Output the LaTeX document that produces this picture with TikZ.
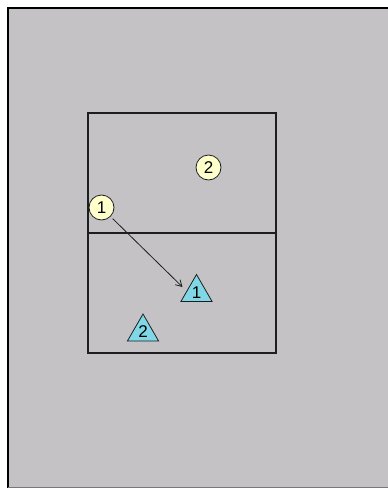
\documentclass[tikz,border=0pt]{standalone}
\usepackage{fontspec}
\setmainfont{Liberation Sans}
\usetikzlibrary{positioning, arrows.meta, shapes.geometric}
\definecolor{FloorGray}{RGB}{196,194,197}
\definecolor{CourtLine}{RGB}{30,30,30}
\definecolor{EdgeGray}{RGB}{120,120,120}
\definecolor{PlayerYellow}{RGB}{255,255,204}
\definecolor{DefCyan}{RGB}{128,216,230}
\tikzset{
  player/.style={circle, draw=CourtLine, thick, fill=PlayerYellow, minimum size=25pt, inner sep=0pt,
    font=\fontsize{17}{17}\selectfont},
  defender/.style={regular polygon, regular polygon sides=3, draw=CourtLine, thick, fill=DefCyan,
    minimum size=36pt, inner sep=0pt, font=\fontsize{17}{17}\selectfont},
  courtline/.style={draw=CourtLine, line width=2pt},
  move/.style={-{Straight Barb[length=6pt, width=7pt]}, line width=0.8pt, CourtLine},
}

\begin{document}
\begin{tikzpicture}[x=1pt, y=-1pt]
        \useasboundingbox (0,0) rectangle (388,488);
        % floor
        \fill[FloorGray] (8,8) rectangle (388,487);
        \draw[black, line width=1.5pt] (7.75,488) |- (388,7.75);
        \draw[EdgeGray, line width=1pt] (8,487.5) -- (388,487.5);
        % court
        \draw[courtline] (88,113) rectangle (276,353);
        \draw[courtline] (88,233) -- (276,233);
        % offence
        \node[player] (o1) at (101.5,207.5) {1};
        \node[player] (o2) at (208.5,167.5) {2};
        % defence
        \node[defender] (d1) at (196.5,292.5) {1};
        \node[defender] (d2) at (143,332) {2};
        % move
        \coordinate (m1) at (182.5,287);
        \draw[move, shorten <=3pt] (o1.-45) -- (m1);
      \end{tikzpicture}
\end{document}
